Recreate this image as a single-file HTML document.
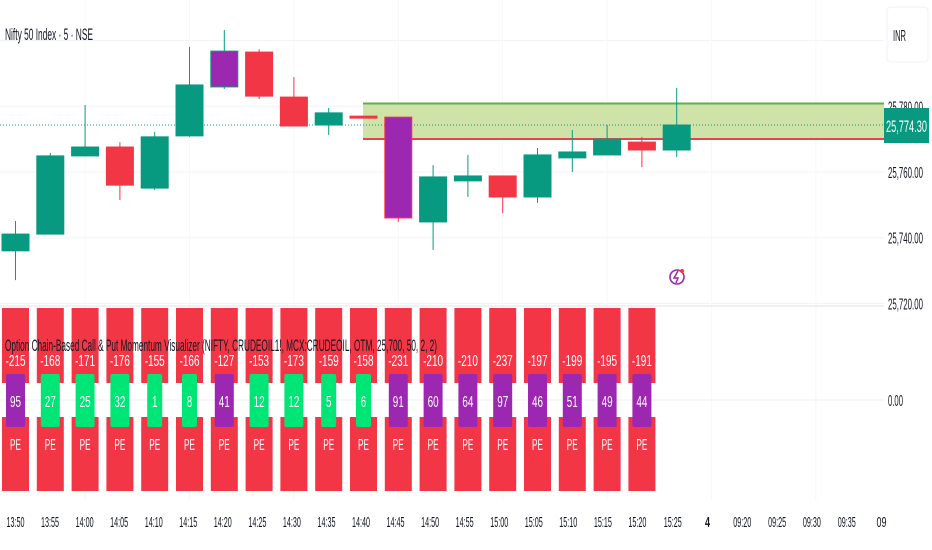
<!DOCTYPE html>
<html><head><meta charset="utf-8"><style>
html,body{margin:0;padding:0;background:#fff;width:932px;height:550px;overflow:hidden;font-family:"Liberation Sans",sans-serif}
svg text{font-family:"Liberation Sans",sans-serif}
</style></head><body>
<svg id="chart" width="932" height="550" xmlns="http://www.w3.org/2000/svg">
<g id="grid"></g>
<rect x="363" y="103" width="521" height="36" fill="#cfe3a8" stroke="none"/>
<line x1="363" y1="103.5" x2="884" y2="103.5" stroke="#5fae4f" stroke-width="2"/>
<line x1="363" y1="139" x2="884" y2="139" stroke="#e8414f" stroke-width="2"/>
<line x1="0" y1="125" x2="884" y2="125" stroke="#089981" stroke-width="1" stroke-dasharray="1,2"/>
<g id="candles"></g>
<text x="5" y="40" font-size="17" fill="#131722" textLength="88" lengthAdjust="spacingAndGlyphs">Nifty 50 Index · 5 · NSE</text>
<g>
<circle cx="677" cy="277" r="7" fill="none" stroke="#9c27b0" stroke-width="1.6"/>
<path d="M678 271 L674 278 L678 278 L676 283" fill="none" stroke="#9c27b0" stroke-width="1.5"/>
<circle cx="682" cy="271" r="2" fill="#f23645"/>
</g>
<line x1="0" y1="306" x2="884" y2="306" stroke="#e0e3eb" stroke-width="1"/>
<line x1="0" y1="400" x2="884" y2="400" stroke="#eef0f3" stroke-width="1"/>
<g id="ind"></g>
<text x="5" y="351" font-size="17" fill="#131722" textLength="432" lengthAdjust="spacingAndGlyphs">Option Chain-Based Call &amp; Put Momentum Visualizer (NIFTY, CRUDEOIL1!, MCX:CRUDEOIL, OTM, 25,700, 50, 2, 2)</text>
<g id="yaxis"></g>
<rect x="887" y="7" width="41" height="55" rx="4" fill="#fff" stroke="#eef0f3"/>
<text x="893" y="41" font-size="16" fill="#131722" textLength="13" lengthAdjust="spacingAndGlyphs">INR</text>
<rect x="884" y="108" width="45" height="35" fill="#089981"/>
<text x="886" y="132" font-size="17" fill="#fff" textLength="41" lengthAdjust="spacingAndGlyphs">25,774.30</text>
<text x="888" y="406" font-size="16" fill="#131722" textLength="15" lengthAdjust="spacingAndGlyphs">0.00</text>
<g id="xaxis"></g>
</svg>
<script>
const times=["13:50","13:55","14:00","14:05","14:10","14:15","14:20","14:25","14:30","14:35","14:40","14:45","14:50","14:55","15:00","15:05","15:10","15:15","15:20","15:25","4","09:20","09:25","09:30","09:35","09"];
const opens=[25736.0,25741.1,25764.9,25767.6,25755.1,25771.0,25785.9,25796.5,25782.8,25774.3,25777.0,25776.7,25744.8,25757.3,25758.8,25752.4,25764.3,25765.2,25769.1,25766.7];
const highs=[25745.1,25765.8,25780.4,25769.1,25772.2,25798.1,25803.2,25797.4,25788.9,25779.5,25777.0,25776.7,25762.1,25765.2,25758.8,25767.3,25772.8,25774.3,25770.7,25785.6];
const lows=[25727.1,25741.1,25764.9,25751.5,25754.5,25770.7,25785.3,25782.2,25774.0,25771.3,25776.4,25744.8,25736.3,25752.4,25747.5,25750.6,25760.0,25765.2,25761.5,25764.6];
const closes=[25741.1,25764.9,25767.6,25756.0,25770.7,25786.5,25796.8,25783.1,25774.0,25778.0,25776.4,25746.0,25758.5,25758.8,25752.4,25765.2,25766.1,25770.0,25766.7,25774.3];
const highlighted=[6,11];
const priceTicks=[25800,25780,25760,25740,25720];
const priceTickLabels=["","25,780.00","25,760.00","25,740.00","25,720.00"];
const callValues=[-215,-168,-171,-176,-155,-166,-127,-153,-173,-159,-158,-231,-210,-210,-237,-197,-199,-195,-191];
const momentumValues=[95,27,25,32,1,8,41,12,12,5,6,91,60,64,97,46,51,49,44];
const legLabels=["PE","PE","PE","PE","PE","PE","PE","PE","PE","PE","PE","PE","PE","PE","PE","PE","PE","PE","PE"];

const NS="http://www.w3.org/2000/svg";
function xOf(i){return 15.5+i*34.8;}
function yOf(p){return 172-(p-25760)*3.285;}
function mk(tag,attrs,parent){const e=document.createElementNS(NS,tag);for(const k in attrs)e.setAttribute(k,attrs[k]);parent.appendChild(e);return e;}
const grid=document.getElementById('grid');
priceTicks.forEach(p=>{const l=mk('line',{x1:0,x2:884,y1:yOf(p),y2:yOf(p),stroke:'#f0f3fa'},grid);

});
for(let i=2;i<times.length;i+=3){const l=mk('line',{x1:xOf(i),x2:xOf(i),y1:0,y2:500,stroke:'#f5f7fa'},grid);

}
const cg=document.getElementById('candles');
opens.forEach((o,i)=>{const c=closes[i],up=c>=o;const x=xOf(i);
const col=highlighted.includes(i)?'#9c27b0':(up?'#089981':'#f23645');
const edge=up?'#089981':'#f23645';
const w=mk('line',{x1:x,x2:x,y1:yOf(highs[i]),y2:yOf(lows[i]),stroke:edge,'stroke-width':1},cg);


const top=yOf(Math.max(o,c)),bot=yOf(Math.min(o,c));
const b=mk('rect',{x:x-13.5,y:top,width:27,height:Math.max(2,bot-top),fill:col,stroke:edge,'stroke-width':1},cg);

});
const ind=document.getElementById('ind');
callValues.forEach((v,i)=>{const x=xOf(i);
const t=mk('rect',{x:x-13.5,y:308,width:27,height:75,fill:'#f23645'},ind);


const b=mk('rect',{x:x-13.5,y:417,width:27,height:74,fill:'#f23645'},ind);


const m=momentumValues[i];const mw=m<10?15:19;
const mr=mk('rect',{x:x-mw/2,y:374,width:mw,height:53,rx:2,fill:m>40?'#9c27b0':'#00e676'},ind);


const tv=mk('text',{x:x,y:366,'font-size':16,fill:'#fff','text-anchor':'middle',textLength:String(v).length*5,lengthAdjust:'spacingAndGlyphs'},ind);tv.textContent=v;


const mv=mk('text',{x:x,y:407,'font-size':16,fill:'#fff','text-anchor':'middle',textLength:String(m).length*5.5,lengthAdjust:'spacingAndGlyphs'},ind);mv.textContent=m;


const pv=mk('text',{x:x,y:450,'font-size':16,fill:'#fff','text-anchor':'middle',textLength:11,lengthAdjust:'spacingAndGlyphs'},ind);pv.textContent=legLabels[i];

});
const ya=document.getElementById('yaxis');
priceTicks.forEach((p,i)=>{if(!priceTickLabels[i])return;
const t=mk('text',{x:888,y:yOf(p)+6,'font-size':16,fill:'#131722',textLength:35,lengthAdjust:'spacingAndGlyphs'},ya);t.textContent=priceTickLabels[i];

});
const xa=document.getElementById('xaxis');
times.forEach((s,i)=>{const x=i<19?15.5+i*34.55:xOf(i)-4;
const t=mk('text',{x:x,y:527,'font-size':15,fill:'#131722','text-anchor':'middle',textLength:s.length>2?18:(s.length*5),lengthAdjust:'spacingAndGlyphs','font-weight':s==='4'?'bold':'normal'},xa);t.textContent=s;

});
</script>
</body></html>
